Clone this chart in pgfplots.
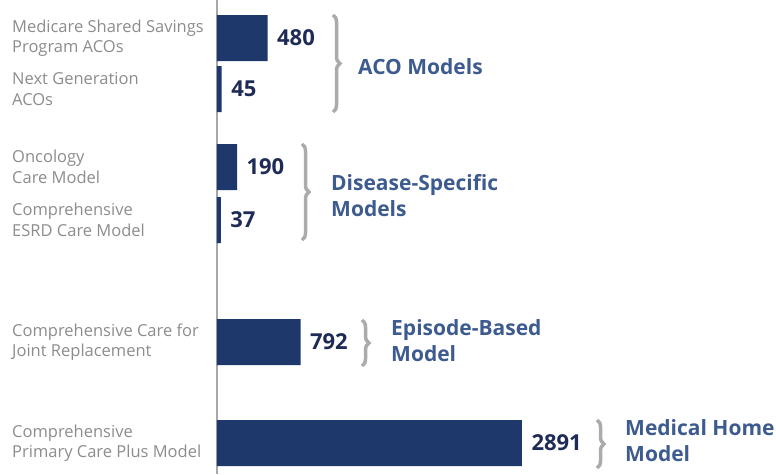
\documentclass[border=0pt]{standalone}
\usepackage{pgfplots}
\pgfplotsset{compat=1.18}
\usepackage{fontspec}
\setmainfont{Open Sans}
\usetikzlibrary{decorations.pathreplacing}
\definecolor{barcol}{HTML}{1E386C}
\definecolor{valcol}{HTML}{1F2B57}
\definecolor{grpcol}{HTML}{3D5B8E}
\definecolor{labcol}{HTML}{8C8C8C}
\definecolor{linecol}{HTML}{A8A8A8}
\definecolor{bracecol}{HTML}{ABABAB}
\begin{document}
\begin{tikzpicture}[x=1pt,y=1pt]
\path[use as bounding box] (-217,0) rectangle (559,474);
\draw[linecol, line width=2.2pt] (0,0) -- (0,474);
\begin{axis}[
  at={(0,0)}, anchor=south west,
  scale only axis, width=559pt, height=474pt,
  xbar, bar width=46,
  xmin=0, xmax=5299, ymin=0, ymax=474, y dir=reverse,
  axis x line=none, axis y line=left,
  axis line style={draw=none},
  major tick length=0pt,
  ytick={38,89,167,220,342,443},
  yticklabels={Medicare Shared Savings\\Program ACOs, Next Generation\\ACOs,
    Oncology\\Care Model, Comprehensive\\ESRD Care Model,
    Comprehensive Care for\\Joint Replacement, Comprehensive\\Primary Care Plus Model},
  yticklabel style={anchor=west, align=left, xshift=-205pt, inner sep=0pt,
    font=\fontsize{16.5}{20.5}\selectfont, text=labcol},
  nodes near coords,
  nodes near coords style={anchor=west, xshift=6pt, text=valcol,
    font=\bfseries\fontsize{22}{22}\selectfont,
    /pgf/number format/assume math mode=true,
    /pgf/number format/1000 sep={}},
  clip=false,
]
\addplot[fill=barcol, draw=none] coordinates {
  (480,38) (45,89) (190,167) (37,220) (792,342) (2891,443)};
\end{axis}
\begin{scope}[bracecol, line width=3.5pt, decoration={brace, amplitude=7pt}]
\draw[decorate] (116,459) -- (116,362);
\draw[decorate] (85,330) -- (85,234);
\draw[decorate] (145,154) -- (145,108);
\draw[decorate] (380,54) -- (380,6);
\end{scope}
\begin{scope}[every node/.style={anchor=west, align=left, text=grpcol, inner sep=0pt,
    font=\bfseries\fontsize{21}{26}\selectfont}]
\node at (141,407) {ACO Models};
\node at (114,278) {Disease-Specific\\Models};
\node at (174,133) {Episode-Based\\Model};
\node at (408,33) {Medical Home\\Model};
\end{scope}
\end{tikzpicture}
\end{document}
